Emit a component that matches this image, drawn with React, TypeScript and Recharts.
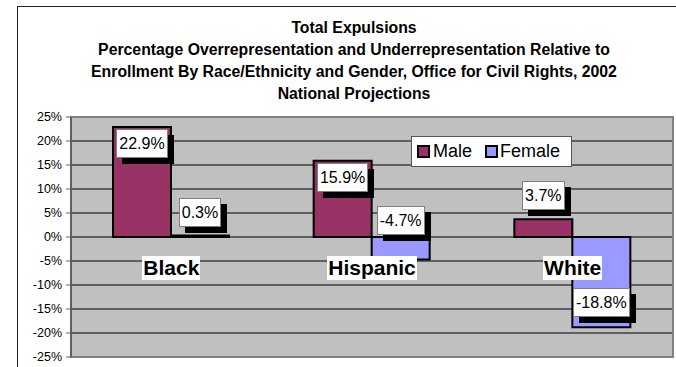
import React from 'react';
import { BarChart, Bar, XAxis, YAxis, CartesianGrid, Legend, LabelList, ReferenceArea } from 'recharts';

const categories = ['Black', 'Hispanic', 'White'];
const maleValues = [22.9, 15.9, 3.7];
const femaleValues = [0.3, -4.7, -18.8];
const yTicks = [-25, -20, -15, -10, -5, 0, 5, 10, 15, 20, 25];
const titleLines = [
  'Total Expulsions',
  'Percentage Overrepresentation and Underrepresentation Relative to',
  'Enrollment By Race/Ethnicity and Gender, Office for Civil Rights, 2002',
  'National Projections',
];

const data = categories.map((race, i) => ({
  race,
  male: maleValues[i],
  female: femaleValues[i],
}));

const FONT = '"Liberation Sans", Arial, sans-serif';
const MALE = '#993366';
const FEMALE = '#9999FF';
const CAT_LABEL_TOP = 256;

// white value box with a hard black drop shadow
function ValueLabel(props: any) {
  const { x, y, width, height, value } = props;
  const top = Math.min(y, y + height);
  const bottom = Math.max(y, y + height);
  const cx = x + width / 2;
  const boxH = 29;
  let boxTop;
  if (bottom - top > 50) {
    boxTop = value >= 0 ? top + 2 : bottom - 10 - boxH;
  } else {
    boxTop = value >= 0 ? top - 9 - boxH : top - 2 - boxH;
  }
  return (
    <foreignObject x={cx - 45} y={boxTop} width={90} height={boxH + 10} style={{ overflow: 'visible' }}>
      <div style={{ display: 'flex', justifyContent: 'center' }}>
        <div
          style={{
            background: '#fff',
            border: '1px solid #7f7f7f',
            boxShadow: '6px 6px 0 #000',
            height: boxH - 2,
            lineHeight: `${boxH - 2}px`,
            padding: '0 2px',
            fontFamily: FONT,
            fontSize: 16,
            color: '#000',
            whiteSpace: 'nowrap',
          }}
        >
          {Number(value).toFixed(1)}%
        </div>
      </div>
    </foreignObject>
  );
}

function CategoryTick(props: any) {
  const { x, payload } = props;
  return (
    <foreignObject x={x - 70} y={CAT_LABEL_TOP} width={140} height={24}>
      <div style={{ display: 'flex', justifyContent: 'center' }}>
        <span
          style={{
            background: '#fff',
            fontFamily: FONT,
            fontWeight: 'bold',
            fontSize: 21,
            lineHeight: '24px',
            padding: '0 1px',
            color: '#000',
          }}
        >
          {payload.value}
        </span>
      </div>
    </foreignObject>
  );
}

function Swatch({ color }: { color: string }) {
  return (
    <span
      style={{
        display: 'inline-block',
        width: 13,
        height: 13,
        boxSizing: 'border-box',
        border: '2px solid #000',
        background: color,
      }}
    />
  );
}

function LegendBox() {
  return (
    <div
      style={{
        background: '#fff',
        border: '1px solid #555',
        width: 159,
        height: 29,
        display: 'flex',
        alignItems: 'center',
        fontFamily: FONT,
        fontSize: 18,
        color: '#000',
        boxSizing: 'content-box',
      }}
    >
      <span style={{ marginLeft: 5, display: 'flex' }}><Swatch color={MALE} /></span>
      <span style={{ marginLeft: 3 }}>Male</span>
      <span style={{ marginLeft: 13, display: 'flex' }}><Swatch color={FEMALE} /></span>
      <span style={{ marginLeft: 2 }}>Female</span>
    </div>
  );
}

export default function App() {
  return (
    <div style={{ position: 'absolute', left: 0, top: 0, width: 676, height: 367, overflow: 'hidden', background: '#fff', fontFamily: FONT }}>
      <div style={{ position: 'absolute', left: 17, top: 6, width: 700, height: 400, borderTop: '1px solid #222', borderLeft: '1px solid #222' }} />
      <div
        style={{
          position: 'absolute',
          left: 17,
          top: 17,
          width: 674,
          textAlign: 'center',
          fontWeight: 'bold',
          fontSize: 15.8,
          lineHeight: '22px',
          color: '#000',
        }}
      >
        {titleLines.map((t) => (
          <div key={t}>{t}</div>
        ))}
      </div>
      <div style={{ position: 'absolute', left: 0, top: 0 }}>
        <BarChart
          width={676}
          height={367}
          data={data}
          barSize={58}
          barGap={0}
          margin={{ top: 117, right: 3, bottom: 0, left: 0 }}
        >
          <CartesianGrid vertical={false} stroke="#000" fill="#C0C0C0" />
          <ReferenceArea y1={-25} y2={25} fill="none" stroke="#808080" strokeWidth={2} ifOverflow="visible" />
          <YAxis
            domain={[-25, 25]}
            ticks={yTicks}
            interval={0}
            width={71}
            tickFormatter={(v: number) => `${v}%`}
            axisLine={{ stroke: '#606060', strokeWidth: 2 }}
            tickLine={{ stroke: '#606060' }}
            tickSize={5}
            tickMargin={4}
            tick={{ fill: '#000', fontSize: 12.5, fontFamily: FONT }}
          />
          <Bar dataKey="male" name="Male" fill={MALE} stroke="#000" strokeWidth={2} isAnimationActive={false}>
            <LabelList dataKey="male" content={<ValueLabel />} />
          </Bar>
          <Bar dataKey="female" name="Female" fill={FEMALE} stroke="#000" strokeWidth={2} isAnimationActive={false}>
            <LabelList dataKey="female" content={<ValueLabel />} />
          </Bar>
          <XAxis
            dataKey="race"
            height={10}
            axisLine={false}
            tickLine={false}
            interval={0}
            tick={<CategoryTick />}
          />
          <Legend
            layout="horizontal"
            verticalAlign="middle"
            content={<LegendBox />}
            wrapperStyle={{ left: 411, top: 136, width: 'auto' }}
          />
        </BarChart>
      </div>
    </div>
  );
}
